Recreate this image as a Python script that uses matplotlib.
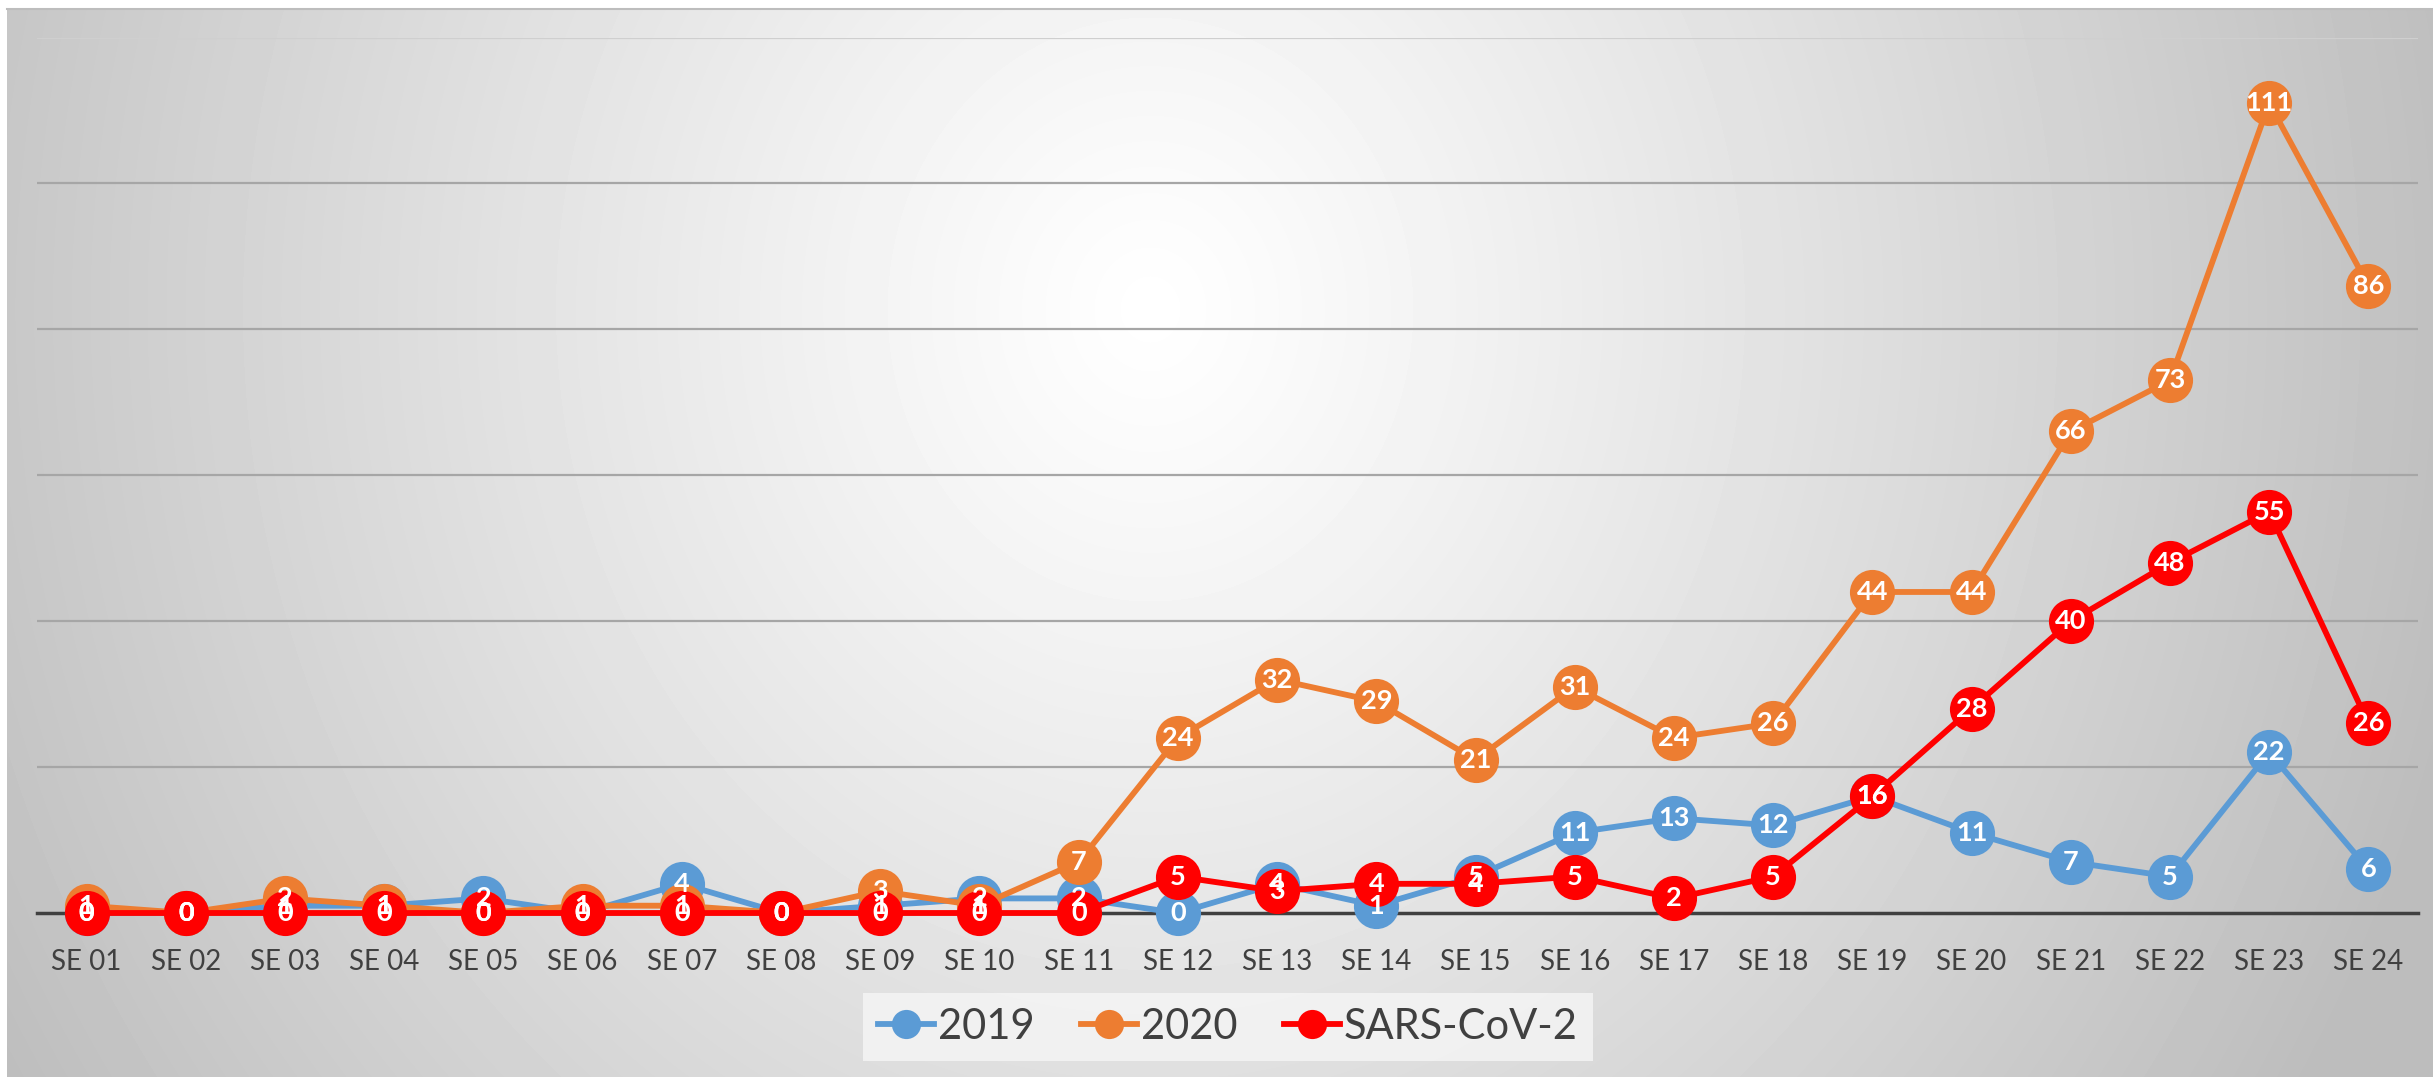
import numpy as np
import matplotlib
matplotlib.use("Agg")
import matplotlib.pyplot as plt

plt.rcParams['font.family'] = ['Lato', 'DejaVu Sans']

weeks = ["SE %02d" % i for i in range(1, 25)]
cases_2019 = [0, 0, 1, 1, 2, 0, 4, 0, 1, 2, 2, 0, 4, 1, 5, 11, 13, 12, 16, 11, 7, 5, 22, 6]
cases_2020 = [1, 0, 2, 1, 0, 1, 1, 0, 3, 1, 7, 24, 32, 29, 21, 31, 24, 26, 44, 44, 66, 73, 111, 86]
cases_sars = [0, 0, 0, 0, 0, 0, 0, 0, 0, 0, 0, 5, 3, 4, 4, 5, 2, 5, 16, 28, 40, 48, 55, 26]

series = [
    ("2019", cases_2019, "#5B9BD5"),
    ("2020", cases_2020, "#ED7D31"),
    ("SARS-CoV-2", cases_sars, "#FF0000"),
]

W, H = 2433, 1077
fig = plt.figure(figsize=(W / 100, H / 100), dpi=100)
fig.patch.set_facecolor("white")

# gradient panel background
bg = fig.add_axes([7 / W, 0, 1 - 7 / W, 1 - 9 / H], zorder=0)
yy, xx = np.mgrid[0:H - 9, 7:W]
r = np.sqrt(((xx - 1150) / 1350.0) ** 2 + ((yy - 300) / 1500.0) ** 2)
shade = 1.0 - 0.26 * np.clip(r, 0, 1) ** 1.1
bg.imshow(shade, cmap="gray", vmin=0, vmax=1, aspect="auto", interpolation="bilinear")
bg.axis("off")
fig.add_artist(plt.Line2D([7 / W, 1], [1 - 9 / H, 1 - 9 / H], transform=fig.transFigure,
                          color="#bdbdbd", lw=1.5, zorder=1))

ax = fig.add_axes([37 / W, 1 - 913 / H, (2418 - 37) / W, (913 - 37.5) / H], zorder=2)
ax.patch.set_alpha(0)
x = np.arange(len(weeks))

for yv in [20, 40, 60, 80, 100]:
    ax.axhline(yv, color="#a6a6a6", lw=1.6, zorder=1)
ax.axhline(120, color="#cfcfcf", lw=1.6, zorder=1)

for i, (name, vals, col) in enumerate(series):
    ax.plot(x, vals, color=col, lw=4.2, marker="o", markersize=32.5, markeredgewidth=0,
            label=name, zorder=3 + i, clip_on=False)

for name, vals, col in series:
    for xi, v in zip(x, vals):
        ax.text(xi, v, str(v), ha="center", va="center", color="white",
                fontsize=19.5, fontweight="bold", zorder=10, clip_on=False)

ax.set_xlim(-0.5, len(weeks) - 0.5)
ax.set_ylim(0, 120)
ax.set_xticks(x)
ax.set_xticklabels(weeks, fontsize=20, color="#404040")
ax.set_yticks([])
ax.tick_params(axis="x", length=0, pad=26)
for s in ["top", "right", "left"]:
    ax.spines[s].set_visible(False)
ax.spines["bottom"].set_color("#404040")
ax.spines["bottom"].set_linewidth(2.5)
ax.spines["bottom"].set_zorder(2)

handles = [plt.Line2D([], [], color=c, lw=4.2, marker="o", markersize=21, markeredgewidth=0)
           for _, _, c in series]
leg = fig.legend(handles, [s[0] for s in series], loc="center",
                 bbox_to_anchor=(1228 / W, 1 - 1027 / H), ncol=3, fontsize=30,
                 frameon=True, fancybox=False, handlelength=1.35, handletextpad=0.1,
                 columnspacing=1.1, borderpad=0.35, borderaxespad=0)
leg.get_frame().set_facecolor("#f6f6f6")
leg.get_frame().set_edgecolor("none")
for t in leg.get_texts():
    t.set_color("#404040")

fig.savefig("out.png", dpi=100)
